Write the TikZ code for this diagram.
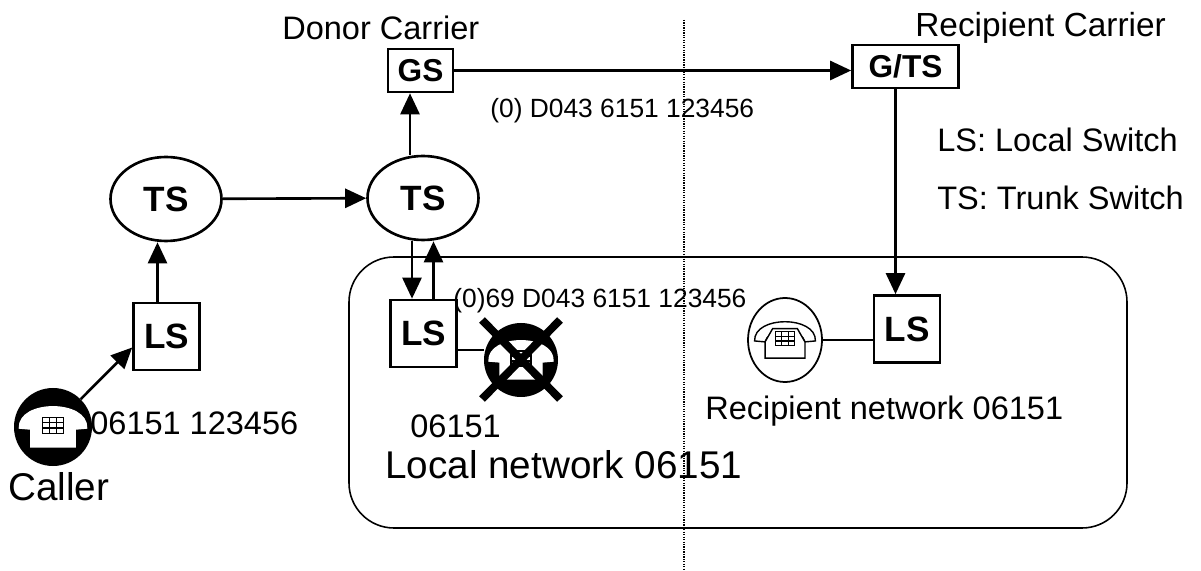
\documentclass[tikz,border=0pt]{standalone}
\usepackage{fontspec}
\setmainfont{Liberation Sans}
\usetikzlibrary{arrows.meta,shapes.geometric}

\begin{document}
\begin{tikzpicture}[
    sw/.style={draw, line width=1.5pt, minimum width=1.32cm, minimum height=1.34cm, inner sep=0pt, font=\bfseries\fontsize{20}{20}\selectfont},
    gw/.style={draw, line width=1.5pt, minimum height=0.86cm, inner sep=0pt, font=\bfseries\fontsize{18}{18}\selectfont},
    trunk/.style={ellipse, draw, line width=1.5pt, minimum width=2.22cm, minimum height=1.68cm, inner sep=0pt, font=\bfseries\fontsize{20}{20}\selectfont},
    arr/.style={-{Triangle[length=0.42cm,width=0.38cm]}, line width=1.5pt},
    txtS/.style={anchor=base west, inner sep=0pt, font=\fontsize{15}{15}\selectfont},
    txtM/.style={anchor=base west, inner sep=0pt, font=\fontsize{18.5}{18.5}\selectfont},
    txtL/.style={anchor=base west, inner sep=0pt, font=\fontsize{22}{22}\selectfont},
    pics/telset/.style={code={
        \filldraw[fill=white, draw=#1, line width=0.8pt]
            (-0.64,-0.02) .. controls (-0.66,0.52) and (0.66,0.52) .. (0.64,-0.02)
            -- (0.42,-0.04) .. controls (0.4,0.22) and (-0.4,0.22) .. (-0.42,-0.04) -- cycle;
        \filldraw[fill=white, draw=#1, line width=0.8pt]
            (-0.26,0.24) -- (0.26,0.24) -- (0.42,-0.04) -- (0.42,-0.38)
            -- (-0.42,-0.38) -- (-0.42,-0.04) -- cycle;
        \draw[line width=0.7pt] (-0.2,0.18) rectangle (0.2,-0.12);
        \foreach \k in {-0.067,0.067} {
            \draw[line width=0.7pt] (\k,0.18) -- (\k,-0.12);
        }
        \foreach \k in {0.08,-0.02} {
            \draw[line width=0.7pt] (-0.2,\k) -- (0.2,\k);
        }
    }}
]

    % bounding box
    \useasboundingbox (0,0) rectangle (24.02,11.4);

    % local network frame and border line
    \draw[line width=0.9pt, rounded corners=0.9cm] (6.98,0.84) rectangle (22.54,6.26);
    \draw[line width=0.8pt, dash pattern=on 0.7pt off 0.7pt] (13.68,11.0) -- (13.68,0);

    % switches
    \node[trunk] (ts1) at (3.32,7.42) {TS};
    \node[trunk] (ts2) at (8.46,7.44) {TS};
    \node[sw] (ls1) at (3.33,4.67) {LS};
    \node[sw] (ls2) at (8.47,4.73) {LS};
    \node[sw] (ls3) at (18.14,4.82) {LS};
    \node[gw, minimum width=1.3cm] (gs) at (8.41,9.99) {GS};
    \node[gw, minimum width=2.12cm] (gts) at (18.11,10.07) {G/TS};

    % telephones
    \node[circle, fill=black, minimum size=1.56cm, inner sep=0pt] (caller) at (1.06,2.86) {};
    \pic[scale=1.05] at (1.06,2.86) {telset=white};
    \node[circle, fill=black, minimum size=1.48cm, inner sep=0pt] (crossed) at (10.42,4.2) {};
    \pic at (10.42,4.2) {telset=white};
    \draw[line width=4.5pt] (9.64,5.0) -- (11.2,3.42);
    \draw[line width=4.5pt] (11.2,5.0) -- (9.64,3.42);
    \node[ellipse, draw, line width=1pt, minimum width=1.48cm, minimum height=1.68cm, inner sep=0pt] (recip) at (15.7,4.6) {};
    \pic[scale=0.95] at (15.7,4.6) {telset=black};

    % connections
    \draw[arr] (caller) -- ([yshift=-0.22cm]ls1.west);
    \draw[arr] ([xshift=-0.18cm]ls1.north) -- ([xshift=-0.18cm]ls1.north |- ts1.south);
    \draw[arr] (ts1) -- (ts2);
    \draw[arr] ([xshift=-0.26cm]ts2.north) -- ([xshift=-0.26cm]ts2.north |- gs.south);
    \draw[arr] (gs.east) -- (gs.east -| gts.west);
    \draw[arr] ([xshift=-0.2cm]gts.south) -- ([xshift=-0.2cm]gts.south |- ls3.north);
    \draw[arr] ([xshift=-0.22cm]ts2.south) -- ([xshift=-0.22cm]ts2.south |- ls2.north);
    \draw[arr] ([xshift=0.2cm]ls2.north) -- ([xshift=0.2cm]ls2.north |- ts2.south);
    \draw[line width=1.5pt] ([yshift=-0.33cm]ls2.east) -- ([yshift=-0.33cm]ls2.east -| crossed.west);
    \draw[line width=1.2pt] (recip.east) -- (recip.east -| ls3.west);

    % labels
    \node[txtM] (donor) at (5.64,10.6) {Donor Carrier};
    \node[txtM, font=\fontsize{19}{19}\selectfont] (recipcar) at (18.3,10.66) {Recipient Carrier};
    \node[txtS] (num1) at (9.8,9.04) {(0) D043 6151 123456};
    \node[txtM] (legls) at (18.74,8.36) {LS: Local Switch};
    \node[txtM] (legts) at (18.74,7.2) {TS: Trunk Switch};
    \node[txtS] (num2) at (9.06,5.24) {(0)69 D043 6151 123456};
    \node[txtM] (num3) at (1.8,2.72) {06151 123456};
    \node[txtL] (callerlbl) at (0.16,1.4) {Caller};
    \node[txtM] (area) at (8.2,2.64) {06151};
    \node[txtL] (localnet) at (7.7,1.84) {Local network 06151};
    \node[txtM] (recipnet) at (14.1,3.02) {Recipient network 06151};

\end{tikzpicture}
\end{document}
